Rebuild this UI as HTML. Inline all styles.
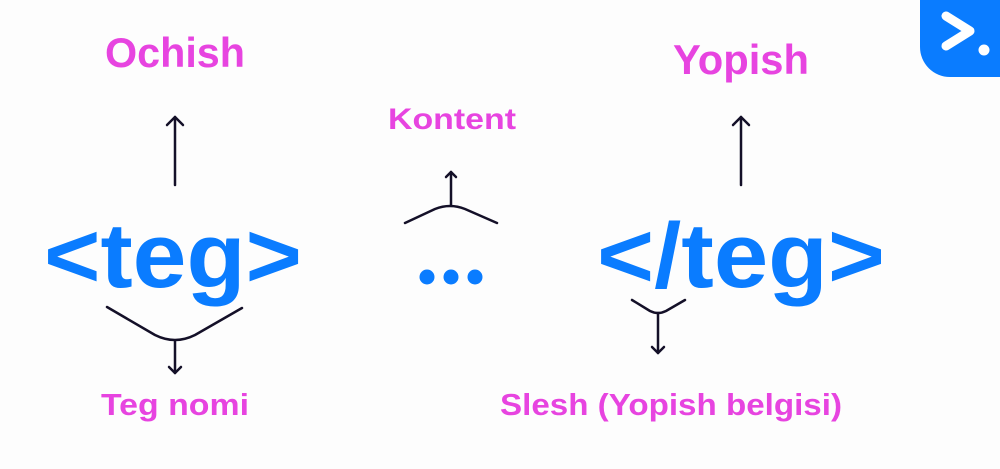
<!DOCTYPE html>
<html><head><meta charset="utf-8"><style>
html,body{margin:0;padding:0;background:#fdfdfd;}
svg{display:block;}
text{font-family:"Liberation Sans",sans-serif;font-weight:bold;}
</style></head><body>
<svg width="1000" height="469" viewBox="0 0 1000 469">
<rect width="1000" height="469" fill="#fdfdfd"/>
<g>
<path d="M920 0 H1000 V77 H950 A30 30 0 0 1 920 47 Z" fill="#0a7cff"/>
<polyline points="946,16 970,31 946,46" fill="none" stroke="#fff" stroke-width="9" stroke-linecap="round" stroke-linejoin="round"/>
<circle cx="984" cy="50" r="5.5" fill="#fff"/>
</g>
<g fill="#e744e0">
<text x="175" y="67" font-size="42" text-anchor="middle" textLength="140" lengthAdjust="spacingAndGlyphs">Ochish</text>
<text x="741" y="74" font-size="42" text-anchor="middle" textLength="136" lengthAdjust="spacingAndGlyphs">Yopish</text>
<text x="452" y="129" font-size="30" text-anchor="middle" textLength="128" lengthAdjust="spacingAndGlyphs">Kontent</text>
<text x="175" y="415" font-size="31" text-anchor="middle" textLength="148" lengthAdjust="spacingAndGlyphs">Teg nomi</text>
<text x="671" y="415" font-size="31" text-anchor="middle" textLength="342" lengthAdjust="spacingAndGlyphs">Slesh (Yopish belgisi)</text>
</g>
<g fill="#0a7cff">
<text x="173" y="287" font-size="92" text-anchor="middle" textLength="258" lengthAdjust="spacingAndGlyphs">&lt;teg&gt;</text>
<text x="741" y="287" font-size="92" text-anchor="middle" textLength="288" lengthAdjust="spacingAndGlyphs">&lt;/teg&gt;</text>
<g>
<circle cx="427" cy="277" r="7.5"/><circle cx="451" cy="277" r="7.5"/><circle cx="475" cy="277" r="7.5"/>
</g>
</g>
<g fill="none" stroke="#141028" stroke-width="2.5" stroke-linecap="round" stroke-linejoin="round">
<g><line x1="175" y1="185" x2="175" y2="117"/><polyline points="167,125 175,117 183,125"/></g>
<g><line x1="741" y1="185" x2="741" y2="117"/><polyline points="733,125 741,117 749,125"/></g>
<g><path d="M405 223 L435 209 Q450 203 465 209 L497 223"/><line x1="451" y1="205" x2="451" y2="172"/><polyline points="446,177 451,172 456,177"/></g>
<g><path d="M107 307 L155 335 Q175 345 195 335 L242 308"/><line x1="175" y1="341" x2="175" y2="373"/><polyline points="169,367 175,373 181,367"/></g>
<g><path d="M632 300 L650 311 Q658 315 666 311 L685 300"/><line x1="658" y1="313" x2="658" y2="353"/><polyline points="652,347 658,353 664,347"/></g>
</g>
</svg>
</body></html>
